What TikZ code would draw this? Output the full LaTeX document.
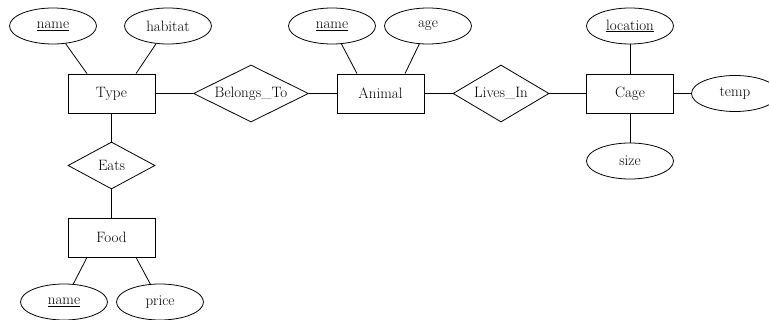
\documentclass[tikz,border=0pt]{standalone}
\usetikzlibrary{shapes.geometric,calc}
\begin{document}
\begin{tikzpicture}[x=1pt,y=-1pt,
  every node/.style={font=\fontsize{15}{18}\selectfont, inner sep=0pt},
  entity/.style={draw, line width=0.8pt, minimum width=87pt, minimum height=39pt},
  attr/.style={draw, line width=0.8pt, ellipse, minimum width=87pt, minimum height=36pt},
  rel/.style={draw, line width=0.8pt, diamond},
  conn/.style={line width=0.8pt}]
\useasboundingbox (0,0) rectangle (769,320);
% entities
\node[entity] (type) at (111.5,93.5) {Type};
\node[entity] (animal) at (380.5,93.5) {Animal};
\node[entity] (cage) at (630,93.5) {Cage};
\node[entity] (food) at (111.5,237.5) {Food};
% relationships
\node[rel, aspect=2.02, minimum width=115pt, minimum height=57pt] (belongs) at (251,93.5) {Belongs\_To};
\node[rel, aspect=1.68, minimum width=96pt, minimum height=57pt] (lives) at (501,93.5) {Lives\_In};
\node[rel, aspect=1.85, minimum width=87pt, minimum height=47pt] (eats) at (111.5,165.5) {Eats};
% attributes
\node[attr] (tname) at (53,26) {\underline{name}};
\node[attr] (habitat) at (168,26) {habitat};
\node[attr] (aname) at (332,26) {\underline{name}};
\node[attr] (age) at (428,26) {age};
\node[attr] (location) at (630,26) {\underline{location}};
\node[attr] (size) at (630,161) {size};
\node[attr] (temp) at (735,93.5) {temp};
\node[attr] (fname) at (64,302) {\underline{name}};
\node[attr] (price) at (160,302) {price};
% connectors
\coordinate (t1) at ($(type.north)+(-24.5,0)$);
\coordinate (t2) at ($(type.north)+(24.5,0)$);
\coordinate (a1) at ($(animal.north)+(-23.5,0)$);
\coordinate (a2) at ($(animal.north)+(24.5,0)$);
\coordinate (f1) at ($(food.south)+(-24.5,0)$);
\coordinate (f2) at ($(food.south)+(24.5,0)$);
\draw[conn] (tname) -- (t1);
\draw[conn] (habitat) -- (t2);
\draw[conn] (aname) -- (a1);
\draw[conn] (age) -- (a2);
\draw[conn] (fname) -- (f1);
\draw[conn] (price) -- (f2);
\draw[conn] (type) -- (belongs) -- (animal) -- (lives) -- (cage) -- (temp);
\draw[conn] (location) -- (cage) -- (size);
\draw[conn] (type) -- (eats) -- (food);
\end{tikzpicture}
\end{document}
